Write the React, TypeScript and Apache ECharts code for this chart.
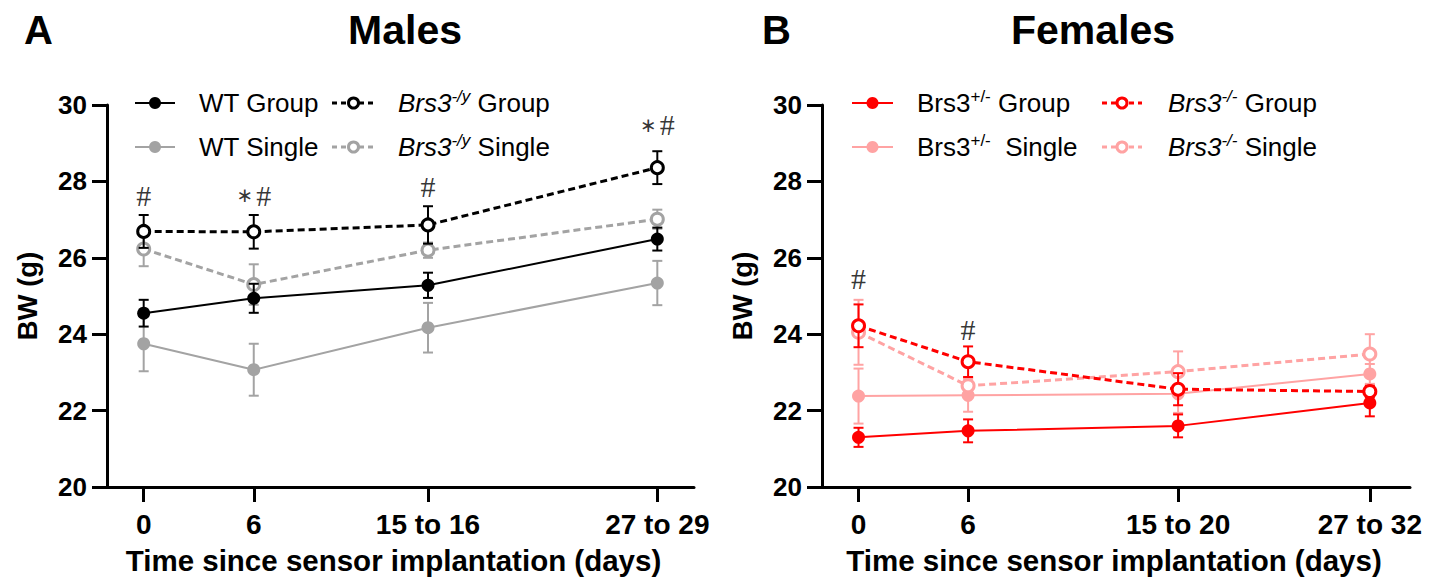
import React, { useEffect, useRef } from "react";
import * as echarts from "echarts";

// ---------- data ----------
const ticksA = [0, 6, 15.5, 28];
const tickLabelsA = ["0", "6", "15 to 16", "27 to 29"];
const ticksB = [0, 6, 17.5, 28];
const tickLabelsB = ["0", "6", "15 to 20", "27 to 32"];

// Males
const wtGroup = [24.55, 24.94, 25.28, 26.49];
const wtGroupErr = [0.35, 0.38, 0.33, 0.3];
const wtSingle = [23.75, 23.07, 24.17, 25.34];
const wtSingleErr = [0.72, 0.68, 0.65, 0.58];
const koGroupM = [26.69, 26.68, 26.86, 28.36];
const koGroupMErr = [0.43, 0.44, 0.49, 0.43];
const koSingleM = [26.23, 25.3, 26.2, 27.01];
const koSingleMErr = [0.45, 0.53, 0.2, 0.25];

// Females
const hetGroup = [21.3, 21.47, 21.6, 22.2];
const hetGroupErr = [0.25, 0.3, 0.3, 0.35];
const hetSingle = [22.38, 22.4, 22.44, 22.96];
const hetSingleErr = [0.72, 0.43, 0.5, 0.26];
const koGroupF = [24.22, 23.28, 22.56, 22.5];
const koGroupFErr = [0.56, 0.4, 0.42, 0.15];
const koSingleF = [24.05, 22.65, 23.02, 23.48];
const koSingleFErr = [0.85, 0.2, 0.53, 0.52];

// significance marks
const sigAx = [0, 6, 15.5, 28];
const sigAy = [27.62, 27.64, 27.86, 29.48];
const sigAt = ["{h|#}", "{st|\u2217}{h|#}", "{h|#}", "{st|\u2217}{h|#}"];
const sigBx = [0, 6];
const sigBy = [25.47, 24.13];
const sigBt = ["{h|#}", "{h|#}"];

const BLACK = "#000000";
const GRAY = "#a3a3a3";
const RED = "#ff0000";
const PINK = "#ffa3a3";
const FONT = "Liberation Sans, Arial, sans-serif";
const SERIF = "Liberation Serif, Times New Roman, serif";

function errSeries(idx: number, xs: number[], ys: number[], errs: number[], color: string, z: number) {
  return {
    type: "custom",
    xAxisIndex: idx,
    yAxisIndex: idx,
    z,
    silent: true,
    data: xs.map((x, i) => [x, ys[i] - errs[i], ys[i] + errs[i]]),
    encode: { x: 0, y: [1, 2] },
    renderItem: (params: any, api: any) => {
      const x = api.value(0);
      const lo = api.coord([x, api.value(1)]);
      const hi = api.coord([x, api.value(2)]);
      const w = 5;
      const style = { stroke: color, lineWidth: 2 };
      return {
        type: "group",
        children: [
          { type: "line", shape: { x1: lo[0], y1: lo[1], x2: hi[0], y2: hi[1] }, style },
          { type: "line", shape: { x1: lo[0] - w, y1: lo[1], x2: lo[0] + w, y2: lo[1] }, style },
          { type: "line", shape: { x1: hi[0] - w, y1: hi[1], x2: hi[0] + w, y2: hi[1] }, style },
        ],
      };
    },
  };
}

function lineSeries(idx: number, name: string, xs: number[], ys: number[], color: string, open: boolean, z: number) {
  return {
    type: "line",
    name,
    xAxisIndex: idx,
    yAxisIndex: idx,
    z,
    data: xs.map((x, i) => [x, ys[i]]),
    symbol: "circle",
    symbolSize: open ? 12 : 13,
    itemStyle: open
      ? { color: "#ffffff", borderColor: color, borderWidth: 3 }
      : { color, borderWidth: 0 },
    lineStyle: open ? { color, width: 3, type: [7, 4] } : { color, width: 2 },
    emphasis: { disabled: true },
  };
}

function sigSeries(idx: number, xs: number[], ys: number[], ts: string[]) {
  return {
    type: "scatter",
    xAxisIndex: idx,
    yAxisIndex: idx,
    symbolSize: 1,
    itemStyle: { color: "rgba(0,0,0,0)" },
    silent: true,
    data: xs.map((x, i) => ({ value: [x, ys[i]], name: ts[i] })),
    label: {
      show: true,
      position: "inside",
      formatter: (p: any) => p.name,
      color: BLACK,
      rich: {
        h: { fontFamily: SERIF, fontSize: 30, color: BLACK, lineHeight: 30 },
        st: { fontFamily: "DejaVu Sans, sans-serif", fontSize: 20, color: BLACK, lineHeight: 30, padding: [0, 3, 0, 0] },
      },
    },
    z: 20,
  };
}

function xAxis(idx: number, ticks: number[], labels: string[], max: number, namePad: number) {
  return {
    type: "value",
    gridIndex: idx,
    min: -2,
    max,
    splitLine: { show: false },
    axisLine: { show: true, onZero: false, lineStyle: { color: BLACK, width: 3 } },
    axisTick: { show: true, customValues: ticks, length: 15, lineStyle: { color: BLACK, width: 3 } },
    axisLabel: {
      customValues: ticks,
      formatter: (v: number) => {
        const k = ticks.indexOf(v);
        return k >= 0 ? labels[k] : "";
      },
      margin: 23,
      color: BLACK,
      fontFamily: FONT,
      fontWeight: "bold",
      fontSize: 28,
    },
    name: "Time since sensor implantation (days)",
    nameLocation: "middle",
    nameGap: 58,
    nameTextStyle: { color: BLACK, fontFamily: FONT, fontWeight: "bold", fontSize: 29.5, padding: [0, namePad, 0, 0] },
  };
}

function yAxis(idx: number) {
  return {
    type: "value",
    gridIndex: idx,
    min: 20,
    max: 30,
    interval: 2,
    splitLine: { show: false },
    axisLine: { show: true, onZero: false, lineStyle: { color: BLACK, width: 3 } },
    axisTick: { show: true, length: 15, lineStyle: { color: BLACK, width: 3 } },
    axisLabel: {
      margin: 20,
      color: BLACK,
      fontFamily: FONT,
      fontWeight: "bold",
      fontSize: 26,
    },
    name: "BW (g)",
    nameLocation: "middle",
    nameGap: 66,
    nameRotate: 90,
    nameTextStyle: { color: BLACK, fontFamily: FONT, fontWeight: "bold", fontSize: 27.5 },
  };
}

function legendItem(x0: number, x1: number, tx: number, y: number, color: string, open: boolean, text: string) {
  const cx = (x0 + x1) / 2;
  return {
    type: "group",
    children: [
      {
        type: "line",
        shape: { x1: x0, y1: y, x2: x1, y2: y },
        style: open
          ? { stroke: color, lineWidth: 3, lineDash: [5, 4] }
          : { stroke: color, lineWidth: 2 },
      },
      {
        type: "circle",
        shape: { cx, cy: y, r: open ? 5 : 6 },
        style: open
          ? { fill: "#ffffff", stroke: color, lineWidth: 3 }
          : { fill: color },
      },
      {
        type: "text",
        x: tx,
        y,
        style: {
          text,
          fontFamily: FONT,
          fontSize: 26,
          fill: BLACK,
          verticalAlign: "middle",
          rich: {
            n: { fontFamily: FONT, fontSize: 26, fill: BLACK, lineHeight: 30 },
            i: { fontFamily: FONT, fontSize: 26, fontStyle: "italic", fill: BLACK, lineHeight: 30 },
            s: { fontFamily: FONT, fontSize: 17, fill: BLACK, verticalAlign: "top", lineHeight: 16 },
            si: { fontFamily: FONT, fontSize: 17, fontStyle: "italic", fill: BLACK, verticalAlign: "top", lineHeight: 16 },
          },
        },
      },
    ],
  };
}

export default function App() {
  const ref = useRef<HTMLDivElement>(null);
  useEffect(() => {
    document.body.style.margin = "0";
    const chart = echarts.init(ref.current!, undefined, { renderer: "svg" });
    const option: any = {
      animation: false,
      backgroundColor: "#ffffff",
      grid: [
        { left: 107, top: 105, width: 587, height: 385 },
        { left: 822, top: 105, width: 588, height: 386 },
      ],
      xAxis: [xAxis(0, ticksA, tickLabelsA, 30, 14), xAxis(1, ticksB, tickLabelsB, 30.2, 4)],
      yAxis: [yAxis(0), yAxis(1)],
      series: [
        errSeries(0, ticksA, wtSingle, wtSingleErr, GRAY, 2),
        errSeries(0, ticksA, koSingleM, koSingleMErr, GRAY, 2),
        lineSeries(0, "WT Single", ticksA, wtSingle, GRAY, false, 3),
        lineSeries(0, "Brs3-/y Single", ticksA, koSingleM, GRAY, true, 3),
        errSeries(0, ticksA, wtGroup, wtGroupErr, BLACK, 4),
        errSeries(0, ticksA, koGroupM, koGroupMErr, BLACK, 4),
        lineSeries(0, "WT Group", ticksA, wtGroup, BLACK, false, 5),
        lineSeries(0, "Brs3-/y Group", ticksA, koGroupM, BLACK, true, 5),
        sigSeries(0, sigAx, sigAy, sigAt),

        errSeries(1, ticksB, hetSingle, hetSingleErr, PINK, 2),
        errSeries(1, ticksB, koSingleF, koSingleFErr, PINK, 2),
        lineSeries(1, "Brs3+/- Single", ticksB, hetSingle, PINK, false, 3),
        lineSeries(1, "Brs3-/- Single", ticksB, koSingleF, PINK, true, 3),
        errSeries(1, ticksB, hetGroup, hetGroupErr, RED, 4),
        errSeries(1, ticksB, koGroupF, koGroupFErr, RED, 4),
        lineSeries(1, "Brs3+/- Group", ticksB, hetGroup, RED, false, 5),
        lineSeries(1, "Brs3-/- Group", ticksB, koGroupF, RED, true, 5),
        sigSeries(1, sigBx, sigBy, sigBt),
      ],
      graphic: [
        { type: "text", x: 24, y: 30, style: { text: "A", fontFamily: FONT, fontWeight: "bold", fontSize: 40, fill: BLACK, verticalAlign: "middle" } },
        { type: "text", x: 405, y: 30, style: { text: "Males", fontFamily: FONT, fontWeight: "bold", fontSize: 41, fill: BLACK, align: "center", verticalAlign: "middle" } },
        { type: "text", x: 762, y: 30, style: { text: "B", fontFamily: FONT, fontWeight: "bold", fontSize: 40, fill: BLACK, verticalAlign: "middle" } },
        { type: "text", x: 1093, y: 30, style: { text: "Females", fontFamily: FONT, fontWeight: "bold", fontSize: 41, fill: BLACK, align: "center", verticalAlign: "middle" } },

        legendItem(135, 175, 199, 103, BLACK, false, "{n|WT Group}"),
        legendItem(135, 175, 199, 147, GRAY, false, "{n|WT Single}"),
        legendItem(332, 375, 398, 103, BLACK, true, "{i|Brs3}{si|-/y}{n| Group}"),
        legendItem(332, 375, 398, 147, GRAY, true, "{i|Brs3}{si|-/y}{n| Single}"),

        legendItem(852, 893, 917, 103, RED, false, "{n|Brs3}{s|+/-}{n| Group}"),
        legendItem(852, 893, 917, 147, PINK, false, "{n|Brs3}{s|+/-}{n|  Single}"),
        legendItem(1102, 1142, 1168, 103, RED, true, "{i|Brs3}{si|-/-}{n| Group}"),
        legendItem(1102, 1142, 1168, 147, PINK, true, "{i|Brs3}{si|-/-}{n| Single}"),
      ],
    };
    chart.setOption(option);
    return () => chart.dispose();
  }, []);
  return <div ref={ref} style={{ position: "absolute", left: 0, top: 0, width: 1442, height: 580 }} />;
}
